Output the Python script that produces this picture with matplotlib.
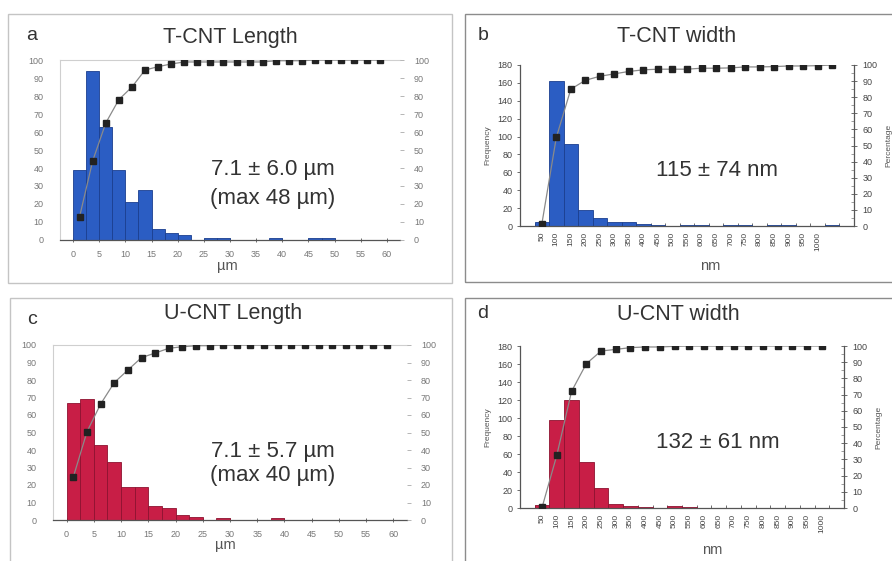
import matplotlib
matplotlib.use("Agg")
import matplotlib.pyplot as plt
from matplotlib.patches import Rectangle
from matplotlib.ticker import MultipleLocator, FixedLocator

plt.rcParams['font.family'] = ['Liberation Sans', 'DejaVu Sans']

W, H = 892, 561

# ---------------- data ----------------
length_bin_centers = [1.25, 3.75, 6.25, 8.75, 11.25, 13.75, 16.25, 18.75, 21.25, 23.75,
                      26.25, 28.75, 31.25, 33.75, 36.25, 38.75, 41.25, 43.75, 46.25, 48.75,
                      51.25, 53.75, 56.25, 58.75]
length_ticks = [0, 5, 10, 15, 20, 25, 30, 35, 40, 45, 50, 55, 60]

tcnt_len_counts = [39, 94, 63, 39, 21, 28, 6, 4, 3, 0, 1, 1, 0, 0, 0, 1, 0, 0, 1, 1, 0, 0, 0, 0]
tcnt_len_cum = [13, 44, 65, 78, 85, 94.4, 96.3, 97.8, 98.9, 98.9, 98.9, 98.9, 98.9, 98.9, 98.9,
                99.6, 99.6, 99.6, 100, 100, 100, 100, 100, 100]

ucnt_len_counts = [67, 69, 43, 33, 19, 19, 8, 7, 3, 2, 0, 1, 0, 0, 0, 1, 0, 0, 0, 0, 0, 0, 0, 0]
ucnt_len_cum = [24.8, 50.5, 66.3, 78.5, 85.7, 92.8, 95.4, 98.1, 99, 99.6, 99.6, 100, 100, 100, 100,
                100, 100, 100, 100, 100, 100, 100, 100, 100]

width_labels = ['50', '100', '150', '200', '250', '300', '350', '400', '450', '500',
                '550', '600', '650', '700', '750', '800', '850', '900', '950', '1000']

tcnt_wid_counts = [5, 162, 92, 18, 9, 4, 4, 2, 1, 0, 1, 1, 0, 1, 1, 0, 1, 1, 0, 0, 1]
tcnt_wid_cum = [1, 55, 85, 90.5, 93, 94.5, 96, 97, 97.4, 97.4, 97.4, 98, 98, 98.2, 98.8, 98.8,
                99, 99.4, 99.4, 99.6, 100]

ucnt_wid_counts = [3, 98, 120, 51, 22, 4, 2, 1, 0, 2, 1, 0, 0, 0, 0, 0, 0, 0, 0, 0]
ucnt_wid_cum = [0.4, 32.6, 72, 89, 96.9, 97.9, 99, 99.4, 99.4, 99.8, 100, 100, 100, 100, 100,
                100, 100, 100, 100, 100]

BLUE = '#2b5dc3'
BLUE_E = '#1b3f8f'
RED = '#c81e46'
RED_E = '#8e1230'
MK = '#222222'
LN = '#8a8a8a'

fig = plt.figure(figsize=(W / 100, H / 100), dpi=100)


def px_axes(x0, x1, y0, y1):
    return fig.add_axes([x0 / W, 1 - y1 / H, (x1 - x0) / W, (y1 - y0) / H])


def frame(x0, x1, y0, y1, color):
    fig.add_artist(Rectangle((x0 / W, 1 - y1 / H), (x1 - x0) / W, (y1 - y0) / H,
                             transform=fig.transFigure, fill=False, ec=color, lw=1.0))


def ftext(x, y, s, **kw):
    fig.text(x / W, 1 - y / H, s, ha=kw.pop('ha', 'center'), va=kw.pop('va', 'center'), **kw)


# frames
frame(8, 452, 14, 283, '#c4c4c4')
frame(465, 905, 14, 282, '#8c8c8c')
frame(10, 452, 298, 575, '#c4c4c4')
frame(465, 905, 298, 575, '#8c8c8c')


def length_panel(box, counts, cum, color, ecolor):
    ax = px_axes(*box)
    ax.bar(length_bin_centers, counts, width=2.5, color=color, edgecolor=ecolor, lw=0.6, zorder=2)
    ax.set_xlim(-2.5, 62.5)
    ax.set_ylim(0, 100)
    ax.set_xticks(length_ticks)
    ax.set_xticklabels([str(t) for t in length_ticks])
    ax.yaxis.set_major_locator(MultipleLocator(10))
    for s in ['top', 'left']:
        ax.spines[s].set_color('#cfcfcf')
        ax.spines[s].set_linewidth(0.8)
    ax.spines['right'].set_visible(False)
    ax.spines['bottom'].set_color('#555555')
    ax.spines['bottom'].set_linewidth(0.9)
    ax.tick_params(axis='x', direction='inout', length=3, width=0.6, color='#555555',
                   labelsize=6.5, labelcolor='#777777', pad=6)
    ax.tick_params(axis='y', direction='out', length=0, labelsize=6.5, labelcolor='#777777', pad=12)
    ax2 = ax.twinx()
    ax2.plot(length_bin_centers, cum, color=LN, lw=0.9, marker='s', ms=3.8, mfc=MK, mec=MK, zorder=3)
    ax2.set_ylim(0, 100)
    ax2.yaxis.set_major_locator(MultipleLocator(10))
    for s in ['top', 'left', 'right', 'bottom']:
        ax2.spines[s].set_visible(False)
    ax2.tick_params(axis='y', direction='out', length=3, width=0.6, color='#aaaaaa',
                    labelsize=6.5, labelcolor='#777777', pad=7)
    return ax


def width_panel(box, counts, cum, color, ecolor):
    ax = px_axes(*box)
    n = len(counts)
    pos = list(range(n))
    ax.bar(pos, counts, width=1.0, color=color, edgecolor=ecolor, lw=0.6, zorder=2)
    ax.set_xlim(-1.5, n - 1 + 1.5)
    ax.set_ylim(0, 180)
    ax.yaxis.set_major_locator(MultipleLocator(20))
    ax.set_xticks(list(range(len(width_labels))))
    ax.set_xticklabels(width_labels, rotation=90)
    ax.xaxis.set_minor_locator(FixedLocator([p + 0.5 for p in range(-1, n)]))
    for s in ['left', 'bottom']:
        ax.spines[s].set_color('#555555')
        ax.spines[s].set_linewidth(0.9)
    ax.spines['top'].set_visible(False)
    ax.spines['right'].set_visible(False)
    ax.tick_params(axis='x', which='major', length=0, labelsize=6, labelcolor='#444444', pad=4)
    ax.tick_params(axis='x', which='minor', direction='in', length=2.5, width=0.6, color='#555555')
    ax.tick_params(axis='y', direction='out', length=2.5, width=0.6, color='#555555',
                   labelsize=6.5, labelcolor='#444444', pad=3)
    ax.set_ylabel('Frequency', fontsize=6, color='#555555', labelpad=4)
    ax2 = ax.twinx()
    ax2.plot(pos, cum, color=LN, lw=0.9, marker='s', ms=4.6, mfc=MK, mec=MK, zorder=3)
    ax2.set_ylim(0, 100)
    ax2.yaxis.set_major_locator(MultipleLocator(10))
    ax2.yaxis.set_minor_locator(MultipleLocator(5))
    for s in ['top', 'left', 'bottom']:
        ax2.spines[s].set_visible(False)
    ax2.spines['right'].set_color('#555555')
    ax2.spines['right'].set_linewidth(0.9)
    ax2.tick_params(axis='y', which='major', direction='inout', length=4, width=0.6, color='#555555',
                    labelsize=6.5, labelcolor='#444444', pad=4)
    ax2.tick_params(axis='y', which='minor', direction='in', length=2, width=0.5, color='#777777')
    ax2.set_ylabel('Percentage', fontsize=6, color='#555555', labelpad=6)
    return ax


length_panel((60, 400, 60, 240), tcnt_len_counts, tcnt_len_cum, BLUE, BLUE_E)
length_panel((53, 407, 345, 520), ucnt_len_counts, ucnt_len_cum, RED, RED_E)
width_panel((520, 854, 65, 226), tcnt_wid_counts, tcnt_wid_cum, BLUE, BLUE_E)
width_panel((520, 844, 346, 508), ucnt_wid_counts, ucnt_wid_cum, RED, RED_E)

# titles and letters
TC = '#333333'
ftext(230, 37, 'T-CNT Length', fontsize=15.5, color=TC)
ftext(677, 37, 'T-CNT width', fontsize=15.5, color=TC)
ftext(233, 314, 'U-CNT Length', fontsize=15.5, color=TC)
ftext(678, 315, 'U-CNT width', fontsize=15.5, color=TC)
ftext(32, 36, 'a', fontsize=14, color=TC)
ftext(483, 36, 'b', fontsize=14, color=TC)
ftext(32, 320, 'c', fontsize=14, color=TC)
ftext(483, 314, 'd', fontsize=14, color=TC)

# annotations
ftext(273, 170, '7.1 ± 6.0 µm', fontsize=16, color=TC)
ftext(273, 198, '(max 48 µm)', fontsize=16, color=TC)
ftext(273, 452, '7.1 ± 5.7 µm', fontsize=16, color=TC)
ftext(273, 476, '(max 40 µm)', fontsize=16, color=TC)
ftext(717, 170, '115 ± 74 nm', fontsize=16, color=TC)
ftext(718, 442, '132 ± 61 nm', fontsize=16, color=TC)

# axis unit labels
ftext(227, 266, 'µm', fontsize=10.5, color='#555555')
ftext(225, 545, 'µm', fontsize=10.5, color='#555555')
ftext(710, 266, 'nm', fontsize=10.5, color='#555555')
ftext(712, 550, 'nm', fontsize=10.5, color='#555555')

fig.savefig('out.png', dpi=100)
